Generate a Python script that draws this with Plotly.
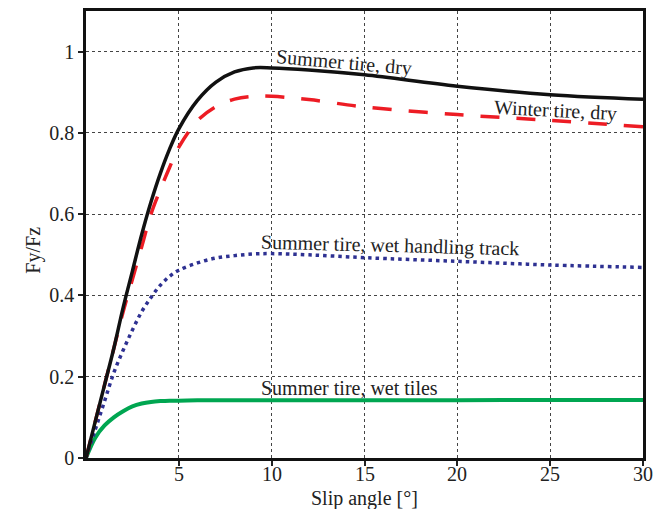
import plotly.graph_objects as go

slip = [0, 0.5, 1, 1.5, 2, 2.5, 3, 3.5, 4, 4.5, 5, 6, 7, 8, 9, 10, 12, 15, 20, 25, 30]
summer_dry = [0, 0.09, 0.18, 0.27, 0.37, 0.46, 0.55, 0.63, 0.70, 0.76, 0.81, 0.88, 0.925, 0.95, 0.96, 0.96, 0.955, 0.943, 0.915, 0.894, 0.883]
winter_dry = [0, 0.09, 0.18, 0.27, 0.36, 0.44, 0.52, 0.60, 0.66, 0.715, 0.765, 0.83, 0.865, 0.883, 0.89, 0.89, 0.882, 0.864, 0.845, 0.831, 0.815]
summer_wet_track = [0, 0.07, 0.14, 0.21, 0.265, 0.315, 0.36, 0.395, 0.425, 0.447, 0.462, 0.48, 0.492, 0.498, 0.502, 0.503, 0.5, 0.493, 0.484, 0.475, 0.469]
summer_wet_tiles = [0, 0.05, 0.08, 0.1, 0.115, 0.127, 0.134, 0.138, 0.14, 0.141, 0.141, 0.142, 0.142, 0.142, 0.142, 0.142, 0.142, 0.142, 0.142, 0.143, 0.143]

x_ticks = [5, 10, 15, 20, 25, 30]
x_tick_labels = ["5", "10", "15", "20", "25", "30"]
y_ticks = [0, 0.2, 0.4, 0.6, 0.8, 1]
y_tick_labels = ["0", "0.2", "0.4", "0.6", "0.8", "1"]

FONT = "Liberation Serif"

fig = go.Figure()
fig.add_trace(go.Scatter(x=slip, y=summer_wet_tiles, mode="lines", line=dict(color="#00a651", width=4, shape="spline")))
fig.add_trace(go.Scatter(x=slip, y=summer_wet_track, mode="lines", line=dict(color="#2e3192", width=3.5, dash="3.5px,4px", shape="spline")))
fig.add_trace(go.Scatter(x=slip, y=winter_dry, mode="lines", line=dict(color="#ed1c24", width=3.5, dash="19px,17px", shape="spline")))
fig.add_trace(go.Scatter(x=slip, y=summer_dry, mode="lines", line=dict(color="#111111", width=3.5, shape="spline")))

annots = [
    dict(text="Summer tire, dry", x=13.9, y=0.974, textangle=5),
    dict(text="Winter tire, dry", x=25.3, y=0.856, textangle=3),
    dict(text="Summer tire, wet handling track", x=16.4, y=0.524, textangle=1.5),
    dict(text="Summer tire, wet tiles", x=14.2, y=0.172, textangle=0),
]
for a in annots:
    fig.add_annotation(x=a["x"], y=a["y"], text=a["text"], textangle=a["textangle"], showarrow=False,
                       font=dict(family=FONT, size=20, color="#222"), xref="x", yref="y")

# x tick labels placed close to the axis, as in the reference
for v, lab in zip(x_ticks, x_tick_labels):
    fig.add_annotation(x=v, y=-0.036, xref="x", yref="paper", text=lab, showarrow=False,
                       yanchor="middle", font=dict(family=FONT, size=20, color="#222"))

fig.add_annotation(text="Slip angle [°]", x=0.5, y=-0.09, xref="paper", yref="paper", showarrow=False,
                   yanchor="middle", font=dict(family=FONT, size=20, color="#222"))
fig.add_annotation(text="Fy/Fz", x=-0.1185, y=0.465, xref="paper", yref="paper", showarrow=False,
                   textangle=-90, font=dict(family=FONT, size=20, color="#222"))

fig.update_layout(
    width=653, height=509,
    margin=dict(l=86, r=10, t=11, b=51, autoexpand=False),
    paper_bgcolor="white", plot_bgcolor="white",
    showlegend=False,
    font=dict(family=FONT, size=20, color="#222"),
)
fig.update_xaxes(range=[0, 30], tickvals=x_ticks, showticklabels=False, ticks="outside", ticklen=5, tickcolor="#222", tickwidth=1.5,
                 showgrid=True, gridcolor="#444", griddash="dot", gridwidth=1, automargin=False,
                 showline=True, linecolor="#111", linewidth=2.5, mirror=True, zeroline=False)
fig.update_yaxes(range=[0, 1.1], tickvals=y_ticks, ticktext=y_tick_labels, ticks="outside", ticklen=5, tickcolor="#222", tickwidth=1.5,
                 showgrid=True, gridcolor="#444", griddash="dot", gridwidth=1, automargin=False,
                 showline=True, linecolor="#111", linewidth=2.5, mirror=True, zeroline=False)

fig.write_html("out.html")
